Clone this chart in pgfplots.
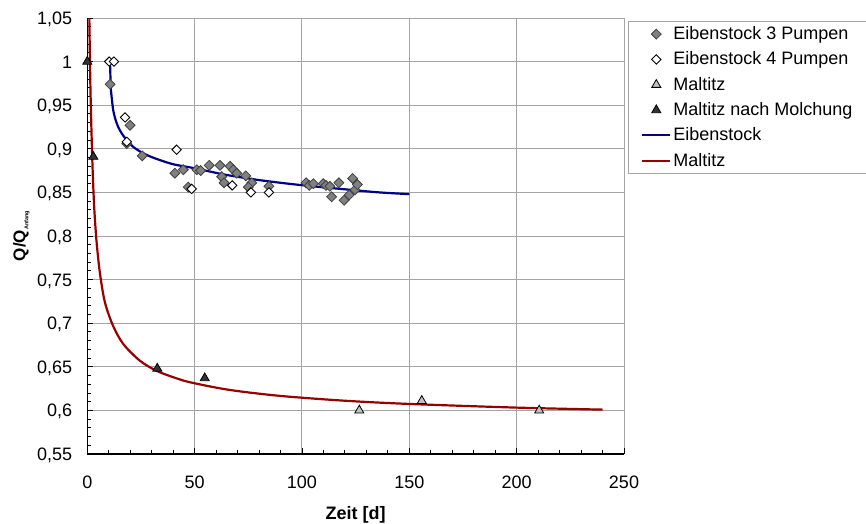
\documentclass[border=0pt]{standalone}
\usepackage{fontspec}
\setmainfont{Liberation Sans}
\usepackage{pgfplots}
\pgfplotsset{compat=1.18}
\definecolor{eib}{RGB}{0,0,140}
\definecolor{mal}{RGB}{150,0,0}
\definecolor{gridc}{RGB}{165,165,165}
\definecolor{dia}{RGB}{128,128,128}
\definecolor{diae}{RGB}{64,64,64}
\definecolor{trl}{RGB}{192,192,192}
\definecolor{trd}{RGB}{51,51,51}
\begin{document}
\begin{tikzpicture}
\path[use as bounding box] (0,0) rectangle (866pt,523pt);
\begin{axis}[
  at={(87.3pt,69pt)}, anchor=south west,
  scale only axis, width=536.7pt, height=436pt,
  xmin=0, xmax=250, ymin=0.55, ymax=1.05,
  xtick={0,50,100,150,200,250},
  ytick={0.55,0.6,0.65,0.7,0.75,0.8,0.85,0.9,0.95,1,1.05},
  minor x tick num=4, minor y tick num=4,
  axis x line*=bottom, axis y line*=left,
  axis line style={black, line width=1.2pt},
  tick style={black, line width=0.9pt},
  major tick length=6pt, minor tick length=4pt,
  tick align=inside,
  grid=major, major grid style={gridc, line width=1pt},
  font=\fontsize{18}{21}\selectfont,
  /pgf/number format/.cd, use comma, 1000 sep={}, assume math mode=true, /pgfplots/.cd,
  xticklabel style={anchor=base, inner sep=0pt, yshift=-34pt},
  yticklabel style={anchor=base east, inner sep=0pt, xshift=-15pt, yshift=-6.4pt},
  xlabel={\textbf{Zeit [d]}},
  xlabel style={at={(axis description cs:0.5,0)}, anchor=base, inner sep=0pt, yshift=-65pt},
  ylabel={\fontsize{17}{17}\selectfont\textbf{Q/Q\raisebox{-3pt}{\fontsize{5.5}{6}\selectfont Anfang}}},
  ylabel style={at={(axis description cs:-0.1155,0.5)}, anchor=base, inner sep=0pt, rotate=0},
  clip mode=individual,
  legend style={at={(axis description cs:1.0069,0.9931)}, anchor=north west, draw=gridc, line width=1pt, fill=white, inner xsep=13pt, inner ysep=0pt, row sep=0pt, font=\fontsize{18}{21}\selectfont, nodes={inner xsep=2pt, inner ysep=2.15pt, text height=16pt, text depth=5pt}},
  legend cell align=left,
  legend image code/.code={\draw[mark repeat=2,mark phase=2,#1] plot coordinates {(0pt,0pt) (14pt,0pt) (28pt,0pt)};},
]
% fitted curves (drawn first, under the markers)
\addplot[eib, line width=2.2pt, smooth, tension=0.5, mark=none, forget plot] coordinates {
(10.6,0.998) (10.75,0.985) (10.9,0.971) (11.4,0.958) (12.1,0.944) (13.2,0.933) (14.4,0.925) (16.2,0.917) (18.4,0.910) (21,0.903) (24.5,0.897) (28.5,0.892) (33.9,0.887) (40.5,0.882) (49.4,0.878) (57,0.874) (64.9,0.870) (80.4,0.864) (99.1,0.8585) (122.4,0.853) (136,0.850) (150,0.848)
};
\addplot[mal, line width=2.2pt, smooth, tension=0.5, mark=none, forget plot] coordinates {
(0.9,1.065) (1.0,1.04) (1.25,1.0) (1.5,0.965) (2.0,0.915) (2.5,0.875) (3.0,0.844) (3.5,0.821) (4.4,0.791) (5.9,0.757) (8.2,0.724) (12,0.697) (16.8,0.676) (24.5,0.657) (32.6,0.645) (43,0.6356) (50,0.6311) (66.5,0.6234) (90,0.6166) (120,0.6111) (150,0.6074) (200,0.6032) (240,0.6009)
};
% Eibenstock 3 Pumpen
\addplot[only marks, mark=square*, mark size=3.5pt, mark options={rotate=45, fill=dia, draw=diae, line width=0.8pt}] coordinates {
(10.6,0.974) (19.9,0.927) (18.4,0.906) (25.6,0.892) (40.8,0.872) (44.7,0.876) (47.0,0.856) (51.0,0.876) (52.8,0.875) (56.8,0.881) (61.8,0.881) (62.6,0.868) (63.7,0.861) (66.5,0.880) (68.0,0.876) (69.6,0.872) (73.8,0.869) (76.6,0.861) (75.0,0.856) (84.6,0.857) (101.9,0.861) (103.4,0.858) (105.3,0.860) (109.9,0.860) (111.2,0.858) (113.0,0.857) (117.2,0.861) (113.8,0.845) (119.6,0.841) (123.6,0.866) (124.7,0.853) (125.8,0.859) (122.0,0.847)
};
\addlegendentry{Eibenstock 3 Pumpen}
% Eibenstock 4 Pumpen
\addplot[only marks, mark=square*, mark size=3.3pt, mark options={rotate=45, fill=white, draw=black, line width=0.9pt}] coordinates {
(10.2,1.0) (12.4,1.0) (17.6,0.936) (18.4,0.908) (41.6,0.899) (48.6,0.854) (67.5,0.858) (76.2,0.850) (84.6,0.850)
};
\addlegendentry{Eibenstock 4 Pumpen}
% Maltitz
\addplot[only marks, mark=triangle*, mark size=5.2pt, mark options={fill=trl, draw=black, line width=0.8pt}] coordinates {
(126.7,0.600) (155.8,0.611) (210.5,0.600)
};
\addlegendentry{Maltitz}
% Maltitz nach Molchung
\addplot[only marks, mark=triangle*, mark size=5.2pt, mark options={fill=trd, draw=black, line width=0.8pt}] coordinates {
(0,1.0) (2.8,0.891) (32.6,0.648) (54.7,0.637)
};
\addlegendentry{Maltitz nach Molchung}
\addlegendimage{eib, line width=2.2pt, mark=none}
\addlegendentry{Eibenstock}
\addlegendimage{mal, line width=2.2pt, mark=none}
\addlegendentry{Maltitz}
\end{axis}
\end{tikzpicture}
\end{document}
